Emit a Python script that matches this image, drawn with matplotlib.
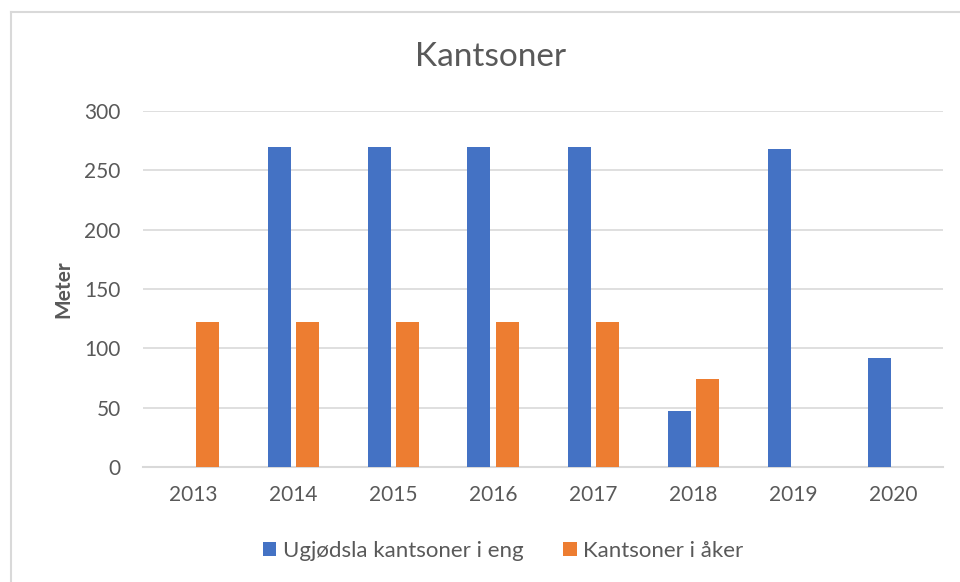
import numpy as np
import matplotlib.pyplot as plt
from matplotlib.lines import Line2D

plt.rcParams['font.family'] = ['Lato', 'DejaVu Sans']

years = ["2013", "2014", "2015", "2016", "2017", "2018", "2019", "2020"]
eng = [0, 270, 270, 270, 270, 47, 268, 92]      # Ugjødsla kantsoner i eng
aker = [122, 122, 122, 122, 122, 74, 0, 0]      # Kantsoner i åker

blue = "#4472C4"
orange = "#ED7D31"
grey = "#595959"

fig = plt.figure(figsize=(9.6, 5.82), dpi=100)
ax = fig.add_axes([143/960, 1 - 467/582, 800/960, 356/582])

x = np.arange(len(years))
w = 0.23
ax.bar(x - 0.14, eng, w, color=blue, label="Ugjødsla kantsoner i eng", zorder=3)
ax.bar(x + 0.14, aker, w, color=orange, label="Kantsoner i åker", zorder=3)

ax.set_xlim(-0.5, len(years) - 0.5)
ax.set_ylim(0, 300)
ax.set_yticks(range(0, 301, 50))
ax.set_xticks(x)
ax.set_xticklabels(years)
ax.grid(axis="y", color="#D9D9D9", linewidth=1.2, zorder=0)
for s in ["top", "right", "left"]:
    ax.spines[s].set_visible(False)
ax.spines["bottom"].set_color("#D9D9D9")
ax.spines["bottom"].set_linewidth(1.5)
ax.tick_params(axis="both", length=0, labelsize=15, colors=grey)
ax.tick_params(axis="y", pad=16)
ax.tick_params(axis="x", pad=13)

ax.set_ylabel("Meter", fontsize=15, fontweight="bold", color=grey, labelpad=8)
fig.text(0.511, 1 - 57/582, "Kantsoner", ha="center", va="center", fontsize=24, color=grey)

ax.legend(loc="center", bbox_to_anchor=(503/960, 1 - 551/582), bbox_transform=fig.transFigure,
          ncol=2, frameon=False, fontsize=16, labelcolor=grey, handlelength=0.6,
          handleheight=0.6, handletextpad=0.3, columnspacing=1.8)

# chart frame (only top/left edges visible in the crop)
fig.add_artist(Line2D([11/960, 11/960], [0, 1 - 12/582], color="#D9D9D9", lw=1.5, transform=fig.transFigure))
fig.add_artist(Line2D([11/960, 1], [1 - 12/582, 1 - 12/582], color="#D9D9D9", lw=1.5, transform=fig.transFigure))

fig.savefig("out.png", dpi=100)
